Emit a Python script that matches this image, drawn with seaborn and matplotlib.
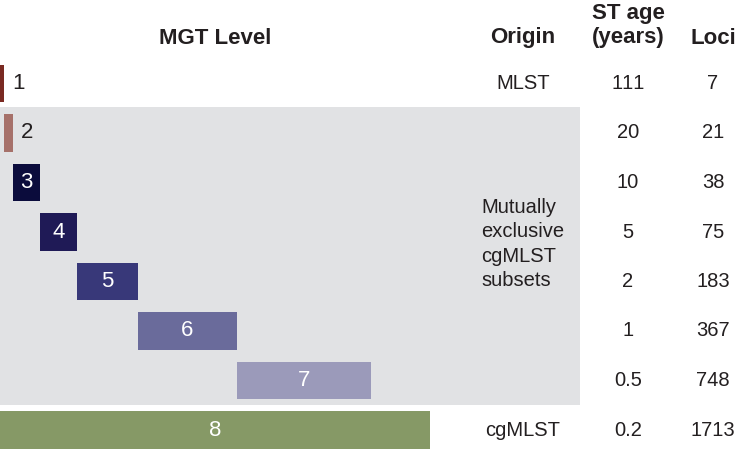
import matplotlib
matplotlib.use("Agg")
import matplotlib.pyplot as plt
import seaborn as sns
import pandas as pd
from matplotlib.patches import Rectangle

# ---- data ----
levels = ["1", "2", "3", "4", "5", "6", "7", "8"]
bar_start = [0, 4, 13, 40, 77, 138, 237, 0]
bar_end = [4, 13, 40, 77, 138, 237, 371, 430]
origin = ["MLST", "", "", "", "", "", "", "cgMLST"]
st_age = ["111", "20", "10", "5", "2", "1", "0.5", "0.2"]
loci = ["7", "21", "38", "75", "183", "367", "748", "1713"]
colors = ["#7a2a22", "#a6716a", "#0b0c3c", "#1f1a56", "#383879",
          "#6a6b9b", "#9b9aba", "#869966"]
group_text = "Mutually\nexclusive\ncgMLST\nsubsets"
headers = ["MGT Level", "Origin", "ST age\n(years)", "Loci"]

sns.set_theme(style="white")
plt.rcParams["font.family"] = ["Liberation Sans", "DejaVu Sans"]
plt.rcParams["text.kerning_factor"] = 8
TXT = "#231f20"
BODY = 14.5
HEAD = 16

df = pd.DataFrame({"level": levels,
                   "width": [e - s for s, e in zip(bar_start, bar_end)]})

fig = plt.figure(figsize=(7.35, 4.49), dpi=100)
ax = fig.add_axes([0, 0, 1, 1])

# gray band behind mutually exclusive subsets
ax.add_patch(Rectangle((0, 0.475), 580, 6.02, facecolor="#e1e2e4",
                       edgecolor="none", zorder=0))

sns.barplot(data=df, x="width", y="level", hue="level", palette=colors,
            order=levels, hue_order=levels, legend=False, orient="h",
            width=0.75, saturation=1, linewidth=0, ax=ax, zorder=2)
for patch, s in zip(ax.patches[1:] if len(ax.patches) > 8 else ax.patches, bar_start):
    patch.set_x(s)

# level labels
for i, (lab, s, e) in enumerate(zip(levels, bar_start, bar_end)):
    if i < 2:
        ax.text(e + 8, i, lab, ha="left", va="center", fontsize=16, color=TXT, zorder=3)
    else:
        ax.text((s + e) / 2, i, lab, ha="center", va="center", fontsize=16,
                color="white", zorder=3)

# table columns
for i in range(len(levels)):
    if origin[i]:
        ax.text(523, i, origin[i], ha="center", va="center", fontsize=BODY, color=TXT)
    ax.text(628, i, st_age[i], ha="center", va="center", fontsize=BODY, color=TXT)
    ax.text(713, i, loci[i], ha="center", va="center", fontsize=BODY, color=TXT)
ax.text(481, (244 - 83.5) / 49.5, group_text, ha="left", va="center",
        fontsize=BODY, color=TXT, linespacing=1.36)

# headers
hy = (38 - 83.5) / 49.5
ax.text(215, hy, headers[0], ha="center", va="center", fontsize=HEAD,
        fontweight="bold", color=TXT)
ax.text(523, hy, headers[1], ha="center", va="center", fontsize=HEAD,
        fontweight="bold", color=TXT)
ax.text(628, (25.5 - 83.5) / 49.5, headers[2], ha="center", va="center", fontsize=HEAD,
        fontweight="bold", color=TXT, linespacing=1.24)
ax.text(713, hy, headers[3], ha="center", va="center", fontsize=HEAD,
        fontweight="bold", color=TXT)

ax.set_xlim(0, 735)
ax.set_ylim((449 - 83.5) / 49.5, (0 - 83.5) / 49.5)
ax.axis("off")
fig.savefig("out.png", dpi=100)
